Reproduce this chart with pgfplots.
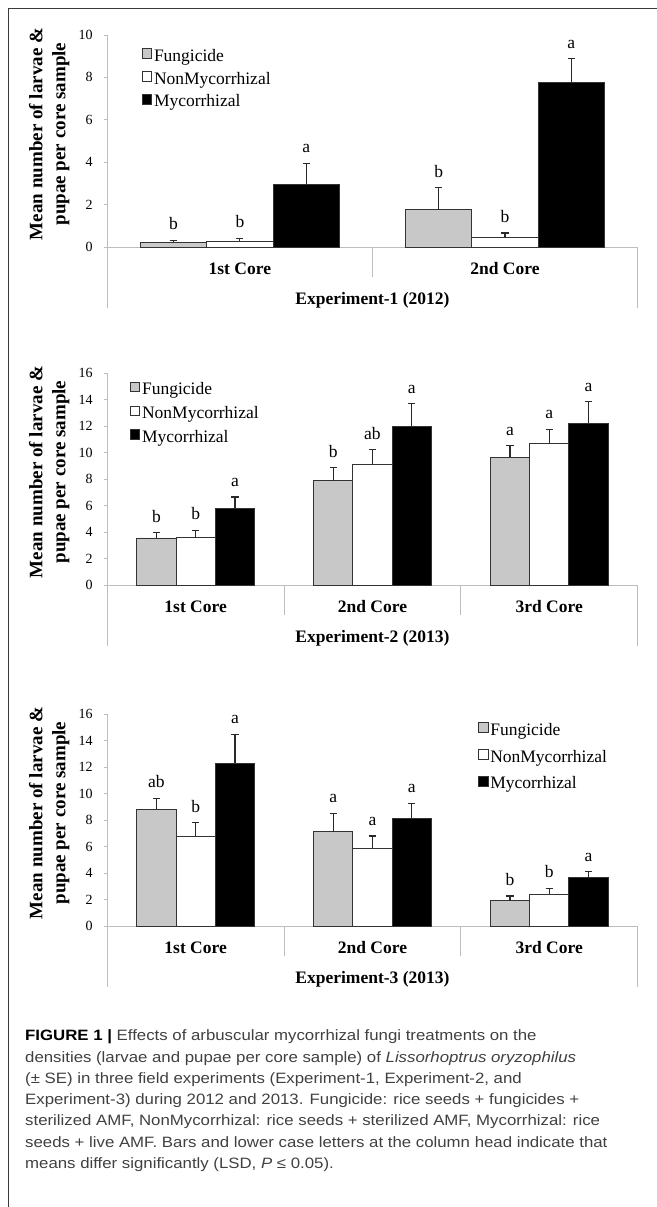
\documentclass[border=0pt]{standalone}
\usepackage{fontspec}
\setmainfont{Liberation Serif}
\newfontfamily\capfont[FakeStretch=1.12]{Liberation Sans}
\usepackage{pgfplots}
\usepackage{pgfplotstable}
\pgfplotsset{compat=1.18}

\definecolor{axgray}{HTML}{BDBDBD}
\definecolor{bardraw}{HTML}{333333}
\definecolor{errdraw}{HTML}{2A2A2A}
\definecolor{fungfill}{HTML}{C8C8C8}
\definecolor{framegray}{HTML}{3A3A3A}
\definecolor{captext}{HTML}{404040}

\newcommand\tickfont{\fontsize{14bp}{16bp}\selectfont}
\newcommand\boldlab{\fontsize{17.5bp}{21bp}\selectfont\bfseries}
\newcommand\legfont{\fontsize{17.5bp}{21bp}\selectfont}
\newcommand\letfont{\fontsize{17.5bp}{20bp}\selectfont}
\newcommand\ylabfont{\fontsize{19bp}{23bp}\selectfont\bfseries}
\newcommand\capsize{\fontsize{15bp}{21.3bp}\selectfont}

% Experiment-1 (2012): x = bar centre (category 0.5, 1.5 with offsets -0.25, 0, +0.25)
\pgfplotstableread{
x y err lab
0.25 0.20 0.12 b
1.25 1.75 1.05 b
}\EaF
\pgfplotstableread{
x y err lab
0.50 0.27 0.13 b
1.50 0.44 0.22 b
}\EaN
\pgfplotstableread{
x y err lab
0.75 2.95 0.99 a
1.75 7.75 1.13 a
}\EaM
% Experiment-2 (2013): categories 0.5, 1.5, 2.5 with offsets -0.2222, 0, +0.2222
\pgfplotstableread{
x y err lab
0.2778 3.55 0.40 b
1.2778 7.87 0.98 b
2.2778 9.65 0.85 a
}\EbF
\pgfplotstableread{
x y err lab
0.5 3.58 0.55 b
1.5 9.07 1.13 ab
2.5 10.70 1.05 a
}\EbN
\pgfplotstableread{
x y err lab
0.7222 5.77 0.87 a
1.7222 11.98 1.70 a
2.7222 12.20 1.63 a
}\EbM
% Experiment-3 (2013)
\pgfplotstableread{
x y err lab
0.2778 8.80 0.84 ab
1.2778 7.12 1.38 a
2.2778 1.91 0.35 b
}\EcF
\pgfplotstableread{
x y err lab
0.5 6.74 1.06 b
1.5 5.86 0.93 a
2.5 2.39 0.45 b
}\EcN
\pgfplotstableread{
x y err lab
0.7222 12.28 2.19 a
1.7222 8.15 1.11 a
2.7222 3.65 0.45 a
}\EcM

\pgfplotsset{
  sqleg/.style={legend image code/.code={\draw[##1,line width=0.8bp] (0bp,-1.3bp) rectangle (9.5bp,8.2bp);}},
  bars/.style={ybar, bar width=#1, bar shift=0pt, draw=bardraw, line width=0.9bp,
    error bars/.cd, y dir=plus, y explicit, error mark=-,
      error bar style={line width=1.2bp, draw=errdraw},
      error mark options={rotate=90, line width=1.2bp, draw=errdraw, mark size=3.6bp},
    /pgfplots/.cd,
    nodes near coords, point meta=explicit symbolic,
    visualization depends on={\thisrow{err}\as\errv},
    every node near coord/.append style={font=\letfont, text=black, anchor=south, inner sep=0bp,
      shift={(axis direction cs:0,\errv)}, yshift=10bp},
    sqleg},
  panel/.style={
    scale only axis, width=530.3bp, height=212bp,
    anchor=south west, clip=false,
    xmin=0, ymin=0,
    axis x line*=bottom, axis y line*=left,
    axis line style={draw=axgray, line width=0.9bp},
    tick align=outside, major tick length=3.5bp,
    ytick style={draw=axgray, line width=0.9bp},
    xtick style={draw=none},
    /pgf/number format/assume math mode=true,
    yticklabel shift=11bp,
    yticklabel style={font=\tickfont, text=black, inner sep=0bp, anchor=east},
    xticklabel style={font=\boldlab, text=black, inner sep=0bp, anchor=base, yshift=-23.8bp},
    xlabel style={font=\boldlab, text=black, at={(axis description cs:0.5,0)}, anchor=base, yshift=-57.8bp},
    ylabel={Mean number of larvae \&\\pupae per core sample},
    ylabel style={font=\ylabfont, text=black, align=center,
      at={([xshift=-58bp,yshift=7bp]axis description cs:0,0.5)}, anchor=center},
    legend style={draw=none, fill=none, inner sep=0bp, outer sep=0bp, anchor=north west,
      at={(axis description cs:0,1)}, font=\legfont, column sep=2bp,
      nodes={inner sep=0bp, text height=12.5bp, text depth=4bp}},
    legend cell align=left,
  },
}

\begin{document}
\begin{tikzpicture}
\useasboundingbox (0,0) rectangle (657bp,-1207bp);
\draw[framegray, line width=1.2bp] (657bp,-8.3bp) -- (8.3bp,-8.3bp) -- (8.3bp,-1207bp);

% ---------- Panel 1 ----------
\begin{axis}[panel, at={(107.3bp,-247bp)}, xmax=2, ymax=10, ytick={0,2,...,10},
  xtick={0.5,1.5}, xticklabels={1st Core,2nd Core}, xlabel={Experiment-1 (2012)},
  legend style={xshift=34.4bp, yshift=-13.3bp, row sep=6bp}]
\addplot[bars=0.25, fill=fungfill] table[x=x,y=y,y error=err,meta=lab]{\EaF};
\addlegendentry{Fungicide}
\addplot[bars=0.25, fill=white] table[x=x,y=y,y error=err,meta=lab]{\EaN};
\addlegendentry{NonMycorrhizal}
\addplot[bars=0.25, fill=black] table[x=x,y=y,y error=err,meta=lab]{\EaM};
\addlegendentry{Mycorrhizal}
\draw[axgray, line width=0.9bp] (axis cs:0,0) -- ++(0,-61.3bp);
\draw[axgray, line width=0.9bp] (axis cs:1,0) -- ++(0,-30bp);
\draw[axgray, line width=0.9bp] (axis cs:2,0) -- ++(0,-61.3bp);
\end{axis}

% ---------- Panel 2 ----------
\begin{axis}[panel, at={(107.3bp,-585bp)}, xmax=3, ymax=16, ytick={0,2,...,16},
  xtick={0.5,1.5,2.5}, xticklabels={1st Core,2nd Core,3rd Core}, xlabel={Experiment-2 (2013)},
  legend style={xshift=22.5bp, yshift=-8.7bp, row sep=7bp}]
\addplot[bars=0.2222, fill=fungfill] table[x=x,y=y,y error=err,meta=lab]{\EbF};
\addlegendentry{Fungicide}
\addplot[bars=0.2222, fill=white] table[x=x,y=y,y error=err,meta=lab]{\EbN};
\addlegendentry{NonMycorrhizal}
\addplot[bars=0.2222, fill=black] table[x=x,y=y,y error=err,meta=lab]{\EbM};
\addlegendentry{Mycorrhizal}
\draw[axgray, line width=0.9bp] (axis cs:0,0) -- ++(0,-61.3bp);
\draw[axgray, line width=0.9bp] (axis cs:1,0) -- ++(0,-30bp);
\draw[axgray, line width=0.9bp] (axis cs:2,0) -- ++(0,-30bp);
\draw[axgray, line width=0.9bp] (axis cs:3,0) -- ++(0,-61.3bp);
\end{axis}

% ---------- Panel 3 ----------
\begin{axis}[panel, at={(107.3bp,-926bp)}, xmax=3, ymax=16, ytick={0,2,...,16},
  xtick={0.5,1.5,2.5}, xticklabels={1st Core,2nd Core,3rd Core}, xlabel={Experiment-3 (2013)},
  legend style={xshift=370.7bp, yshift=-8.3bp, row sep=10bp}]
\addplot[bars=0.2222, fill=fungfill] table[x=x,y=y,y error=err,meta=lab]{\EcF};
\addlegendentry{Fungicide}
\addplot[bars=0.2222, fill=white] table[x=x,y=y,y error=err,meta=lab]{\EcN};
\addlegendentry{NonMycorrhizal}
\addplot[bars=0.2222, fill=black] table[x=x,y=y,y error=err,meta=lab]{\EcM};
\addlegendentry{Mycorrhizal}
\draw[axgray, line width=0.9bp] (axis cs:0,0) -- ++(0,-61.3bp);
\draw[axgray, line width=0.9bp] (axis cs:1,0) -- ++(0,-30bp);
\draw[axgray, line width=0.9bp] (axis cs:2,0) -- ++(0,-30bp);
\draw[axgray, line width=0.9bp] (axis cs:3,0) -- ++(0,-61.3bp);
\end{axis}

% ---------- Caption ----------
\begin{scope}[every node/.style={anchor=base west, inner sep=0bp, font=\capsize\capfont, text=captext}]
\node at (25bp,-1040.7bp) {{\color{black}\bfseries FIGURE 1 |} Effects of arbuscular mycorrhizal fungi treatments on the};
\node at (25bp,-1062.0bp) {densities (larvae and pupae per core sample) of \textit{Lissorhoptrus oryzophilus}};
\node at (25bp,-1083.3bp) {(± SE) in three field experiments (Experiment-1, Experiment-2, and};
\node at (25bp,-1104.6bp) {Experiment-3) during 2012 and 2013. Fungicide: rice seeds + fungicides +};
\node at (25bp,-1125.9bp) {sterilized AMF, NonMycorrhizal: rice seeds + sterilized AMF, Mycorrhizal: rice};
\node at (25bp,-1147.2bp) {seeds + live AMF. Bars and lower case letters at the column head indicate that};
\node at (25bp,-1168.5bp) {means differ significantly (LSD, \textit{P} ≤ 0.05).};
\end{scope}
\end{tikzpicture}
\end{document}
